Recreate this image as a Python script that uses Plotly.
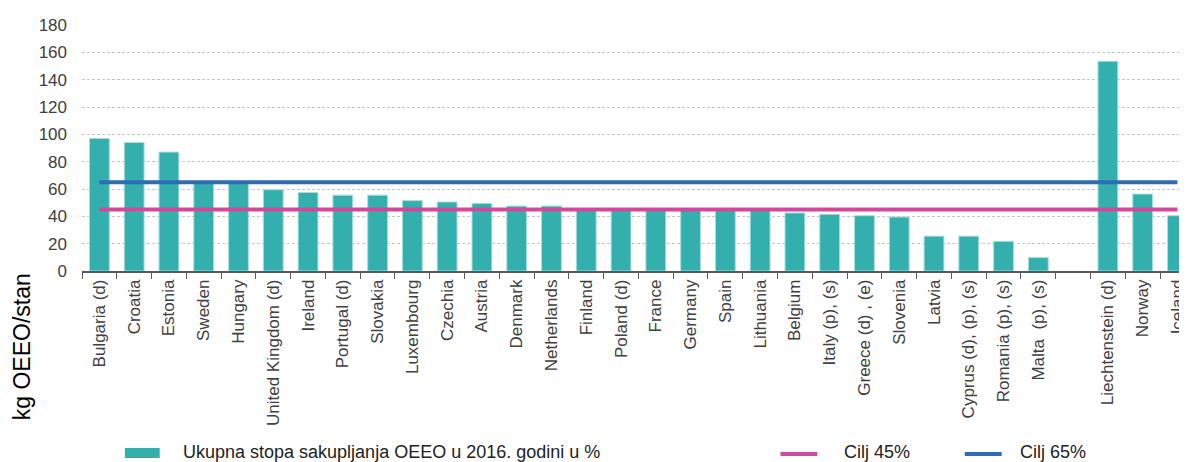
import plotly.graph_objects as go

# ---- data ----
categories = [
    "Bulgaria (d)", "Croatia", "Estonia", "Sweden", "Hungary", "United Kingdom (d)",
    "Ireland", "Portugal (d)", "Slovakia", "Luxembourg", "Czechia", "Austria",
    "Denmark", "Netherlands", "Finland", "Poland (d)", "France", "Germany", "Spain",
    "Lithuania", "Belgium", "Italy (p), (s)", "Greece (d) , (e)", "Slovenia", "Latvia",
    "Cyprus (d), (p), (s)", "Romania (p), (s)", "Malta  (p), (s)", " ",
    "Liechtenstein (d)", "Norway", "Iceland",
]
values = [
    97, 94, 87, 64, 64, 59.5,
    57.5, 55.5, 55.5, 51.5, 50.5, 49.5,
    47.5, 47.5, 45, 45, 45, 45, 45,
    45, 42.5, 41.5, 40.5, 39.5, 25.5,
    25.5, 21.7, 9.8, None,
    153.5, 56.3, 40.5,
]
target_45 = [45, 45]
target_65 = [65, 65]
series_name = "Ukupna stopa sakupljanja OEEO u 2016. godini u %"
name_45 = "Cilj 45%"
name_65 = "Cilj 65%"
y_title = "kg OEEO/stan"
y_ticks = [0, 20, 40, 60, 80, 100, 120, 140, 160, 180]

TEAL = "#33b0ae"
PINK = "#cf4a9b"
BLUE = "#2e6cb5"
FONT = "Liberation Sans, Arial, sans-serif"

OFF = 8  # page body margin
W, H = 1187 - OFF, 462 - OFF
ML, MR, MT, MB = 82 - OFF, 0, 25 - OFF, 462 - 271
PW = W - ML - MR
PH = H - MT - MB


def px(xw):
    return (xw - OFF - ML) / PW


def py(yw):
    return (H - MB - (yw - OFF)) / PH


fig = go.Figure()
fig.add_trace(go.Bar(
    x=categories, y=values, name=series_name,
    marker=dict(color=TEAL, line=dict(color="#a9dedb", width=1)),
    width=0.57, showlegend=False,
))
ends = [categories[0], categories[-1]]
fig.add_trace(go.Scatter(x=ends, y=target_45, mode="lines", name=name_45,
                         line=dict(color=PINK, width=4), showlegend=False))
fig.add_trace(go.Scatter(x=ends, y=target_65, mode="lines", name=name_65,
                         line=dict(color=BLUE, width=4), showlegend=False))

fig.update_layout(
    width=W, height=H,
    margin=dict(l=ML, r=MR, t=MT, b=MB, pad=0),
    paper_bgcolor="white", plot_bgcolor="white",
    font=dict(family=FONT, color="#404040"),
)
fig.update_xaxes(
    type="category", categoryorder="array", categoryarray=categories,
    range=[-0.5, 31.16], tickson="boundaries", ticks="outside", ticklen=6,
    tickcolor="#595959", tickwidth=1.3, showline=True, linecolor="#595959",
    linewidth=1.5, showgrid=False, tickangle=-90,
    tickfont=dict(size=17, color="#404040", family=FONT),
)
fig.update_yaxes(
    range=[0, 180], tickvals=y_ticks, showgrid=True, gridcolor="#c8c8c8",
    griddash="3px,2px", gridwidth=1, zeroline=False, showline=False,
    tickfont=dict(size=17, color="#404040", family=FONT), ticks="",
    ticklabelstandoff=14,
)

annotations = [
    dict(text=y_title, x=px(22), y=py(347), xref="paper", yref="paper",
         textangle=-90, showarrow=False, font=dict(size=23, color="#000000", family=FONT),
         xanchor="center", yanchor="middle"),
    dict(text=series_name, x=px(181), y=py(452), xref="paper", yref="paper",
         showarrow=False, xanchor="left", yanchor="middle",
         font=dict(size=18, color="#222222", family=FONT)),
    dict(text=name_45, x=px(845), y=py(452), xref="paper", yref="paper",
         showarrow=False, xanchor="left", yanchor="middle",
         font=dict(size=18, color="#222222", family=FONT)),
    dict(text=name_65, x=px(1021), y=py(452), xref="paper", yref="paper",
         showarrow=False, xanchor="left", yanchor="middle",
         font=dict(size=18, color="#222222", family=FONT)),
]
shapes = [
    dict(type="rect", xref="paper", yref="paper", x0=px(125), x1=px(160),
         y0=py(458), y1=py(448), fillcolor=TEAL, line=dict(width=0)),
    dict(type="line", xref="paper", yref="paper", x0=px(783), x1=px(820),
         y0=py(454), y1=py(454), line=dict(color=PINK, width=4)),
    dict(type="line", xref="paper", yref="paper", x0=px(968), x1=px(1005),
         y0=py(454), y1=py(454), line=dict(color=BLUE, width=4)),
]
fig.update_layout(annotations=annotations, shapes=shapes)

fig.write_html("out.html")
